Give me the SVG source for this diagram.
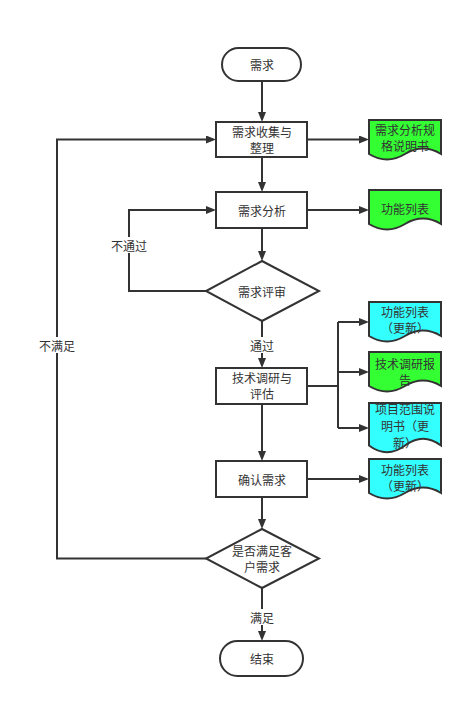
<svg xmlns="http://www.w3.org/2000/svg" width="473" height="708" viewBox="0 0 473 708">
<style>
.s{fill:#ffffff;stroke:#333333;stroke-width:2}
.g{fill:#33ff33;stroke:#333333;stroke-width:2}
.c{fill:#33ffff;stroke:#333333;stroke-width:2}
.e{fill:none;stroke:#333333;stroke-width:2}
text{font-family:"Noto Sans CJK SC","Noto Sans",sans-serif;font-size:12px;fill:#333333;text-anchor:middle;dominant-baseline:central}
.lb{fill:#ffffff;stroke:none}
</style>
<defs>
<marker id="a" markerUnits="userSpaceOnUse" markerWidth="10" markerHeight="8" refX="7" refY="4" orient="auto">
<path d="M0,0 L10,4 L0,8 Z" fill="#333333"/>
</marker>
</defs>
<rect width="473" height="708" fill="#ffffff"/>
<g id="connectors">
<path class="e" d="M262,81 V119" marker-end="url(#a)"/>
<path class="e" d="M262,157 V189" marker-end="url(#a)"/>
<path class="e" d="M262,228 V258" marker-end="url(#a)"/>
<path class="e" d="M262,321 V365" marker-end="url(#a)"/>
<path class="e" d="M262,404 V458" marker-end="url(#a)"/>
<path class="e" d="M262,497 V526" marker-end="url(#a)"/>
<path class="e" d="M262,588 V638" marker-end="url(#a)"/>
<path class="e" d="M307,139.5 H366" marker-end="url(#a)"/>
<path class="e" d="M307,210 H366" marker-end="url(#a)"/>
<path class="e" d="M206,291 H129 V210 H213" marker-end="url(#a)"/>
<path class="e" d="M206,558.5 H57 V139.5 H213" marker-end="url(#a)"/>
<path class="e" d="M307,386 H338"/>
<path class="e" d="M338,322 V428"/>
<path class="e" d="M338,322 H366" marker-end="url(#a)"/>
<path class="e" d="M338,372 H366" marker-end="url(#a)"/>
<path class="e" d="M338,428 H366" marker-end="url(#a)"/>
<path class="e" d="M307,479 H366" marker-end="url(#a)"/>
<rect class="lb" x="108" y="237" width="42" height="16"/>
<text x="129" y="245">不通过</text>
<rect class="lb" x="37" y="337" width="40" height="16"/>
<text x="57" y="345">不满足</text>
<rect class="lb" x="247" y="337" width="30" height="16"/>
<text x="262" y="345">通过</text>
<rect class="lb" x="247" y="609" width="30" height="16"/>
<text x="262" y="617">满足</text>
</g>
<g id="start">
<rect class="s" x="222" y="48" width="79" height="33" rx="16.5"/>
<text x="262" y="64.5">需求</text>
</g>
<g id="collect">
<rect class="s" x="216" y="122" width="91" height="35"/>
<text x="262" y="131.5">需求收集与</text>
<text x="262" y="147.5">整理</text>
</g>
<g id="analysis">
<rect class="s" x="216" y="192" width="91" height="36"/>
<text x="262" y="210">需求分析</text>
</g>
<g id="review">
<polygon class="s" points="262,261 319,291 262,321 206,291"/>
<text x="262" y="291">需求评审</text>
</g>
<g id="research">
<rect class="s" x="216" y="368" width="91" height="36"/>
<text x="262" y="377.5">技术调研与</text>
<text x="262" y="393.5">评估</text>
</g>
<g id="confirm">
<rect class="s" x="216" y="461" width="91" height="36"/>
<text x="262" y="479">确认需求</text>
</g>
<g id="satisfy">
<polygon class="s" points="262,529 319,558.5 262,588 206,558.5"/>
<text x="262" y="550">是否满足客</text>
<text x="262" y="566">户需求</text>
</g>
<g id="end">
<rect class="s" x="220" y="641" width="83" height="35" rx="17.5"/>
<text x="262" y="658.5">结束</text>
</g>
<g id="doc-spec">
<path class="g" d="M369,120 H441 V154 Q423,143.2 405,154 Q387,164.8 369,154 Z"/>
<text x="405" y="129.5">需求分析规</text>
<text x="405" y="145.5">格说明书</text>
</g>
<g id="doc-func">
<path class="g" d="M369,190 H441 V224 Q423,213.2 405,224 Q387,234.8 369,224 Z"/>
<text x="405" y="208">功能列表</text>
</g>
<g id="doc-func-upd1">
<path class="c" d="M369,302 H441 V336 Q423,325.2 405,336 Q387,346.8 369,336 Z"/>
<text x="405" y="311.5">功能列表</text>
<text x="405" y="327.5">（更新）</text>
</g>
<g id="doc-report">
<path class="g" d="M369,352 H441 V386 Q423,375.2 405,386 Q387,396.8 369,386 Z"/>
<text x="405" y="363">技术调研报</text>
<text x="405" y="379">告</text>
</g>
<g id="doc-scope">
<path class="c" d="M369,403 H441 V445.5 Q423,432 405,445.5 Q387,459 369,445.5 Z"/>
<text x="405" y="408">项目范围说</text>
<text x="405" y="425">明书（更</text>
<text x="405" y="442">新）</text>
</g>
<g id="doc-func-upd2">
<path class="c" d="M369,459 H441 V493 Q423,482.2 405,493 Q387,503.8 369,493 Z"/>
<text x="405" y="469">功能列表</text>
<text x="405" y="485">（更新）</text>
</g>
</svg>
